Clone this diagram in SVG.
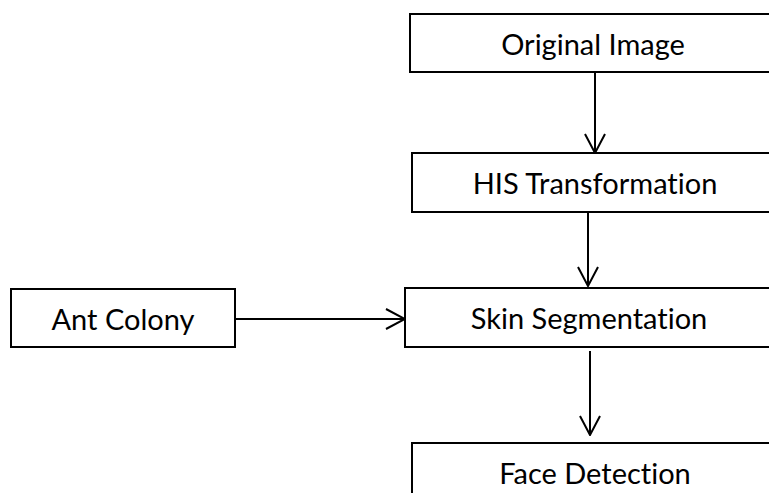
<svg xmlns="http://www.w3.org/2000/svg" width="769" height="493" viewBox="0 0 769 493">
<style>
.box{fill:#fff;stroke:#000;stroke-width:2}
.lbl{font-family:Lato,"Open Sans",sans-serif;font-size:29px;fill:#000;text-anchor:middle;font-variant-ligatures:none}
.con{stroke:#000;stroke-width:2;fill:none}
</style>
<defs>
<marker id="arr" viewBox="0 0 21 23" refX="20" refY="11.5" markerWidth="21" markerHeight="23" markerUnits="userSpaceOnUse" orient="auto">
<path d="M1,1.5 L20,11.5 L1,21.5" fill="none" stroke="#000" stroke-width="2"/>
</marker>
</defs>
<rect width="769" height="493" fill="#fff"/>
<g id="connectors">
<line class="con" x1="595" y1="72" x2="595" y2="153" marker-end="url(#arr)"/>
<line class="con" x1="588" y1="212" x2="588" y2="286" marker-end="url(#arr)"/>
<line class="con" x1="235" y1="319" x2="405" y2="319" marker-end="url(#arr)"/>
<line class="con" x1="590" y1="351" x2="590" y2="435" marker-end="url(#arr)"/>
</g>
<g id="original-image">
<rect class="box" x="410" y="14" width="370" height="58"/>
<text class="lbl" x="593" y="55">Original Image</text>
</g>
<g id="his-transformation">
<rect class="box" x="412" y="153" width="370" height="59"/>
<text class="lbl" x="595" y="194">HIS Transformation</text>
</g>
<g id="skin-segmentation">
<rect class="box" x="405" y="288" width="370" height="59"/>
<text class="lbl" x="589" y="329">Skin Segmentation</text>
</g>
<g id="ant-colony">
<rect class="box" x="11" y="289" width="224" height="58"/>
<text class="lbl" x="123" y="330">Ant Colony</text>
</g>
<g id="face-detection">
<rect class="box" x="412" y="443" width="370" height="70"/>
<text class="lbl" x="595" y="484">Face Detection</text>
</g>
</svg>
